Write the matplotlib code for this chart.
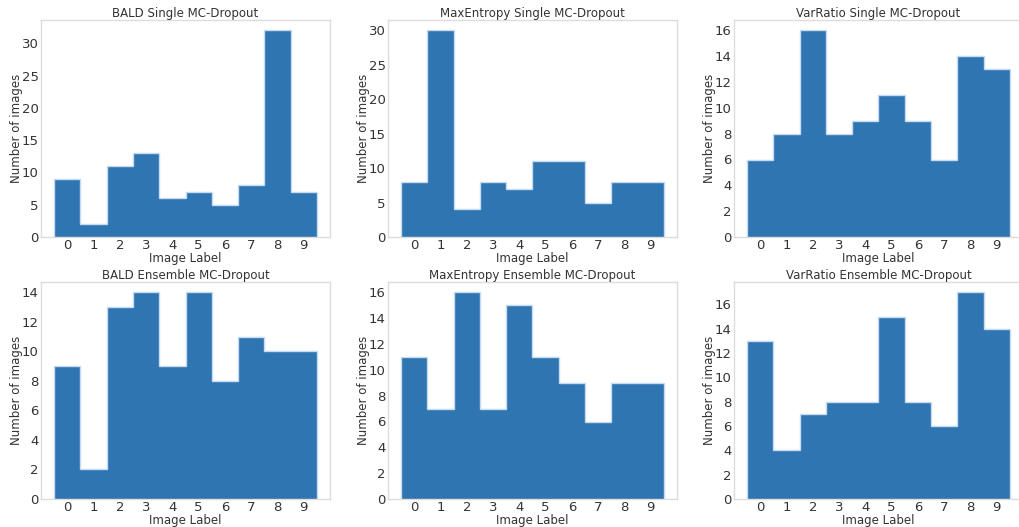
import numpy as np
import matplotlib
matplotlib.use("Agg")
import matplotlib.pyplot as plt

# counts of queried images per label (0-9)
labels = list(range(10))
bald_single = [9, 2, 11, 13, 6, 7, 5, 8, 32, 7]
maxent_single = [8, 30, 4, 8, 7, 11, 11, 5, 8, 8]
varratio_single = [6, 8, 16, 8, 9, 11, 9, 6, 14, 13]
bald_ensemble = [9, 2, 13, 14, 9, 14, 8, 11, 10, 10]
maxent_ensemble = [11, 7, 16, 7, 15, 11, 9, 6, 9, 9]
varratio_ensemble = [13, 4, 7, 8, 8, 15, 8, 6, 17, 14]

titles = ["BALD Single MC-Dropout", "MaxEntropy Single MC-Dropout", "VarRatio Single MC-Dropout",
          "BALD Ensemble MC-Dropout", "MaxEntropy Ensemble MC-Dropout", "VarRatio Ensemble MC-Dropout"]
series = [bald_single, maxent_single, varratio_single,
          bald_ensemble, maxent_ensemble, varratio_ensemble]

W, H = 1020, 527
fig = plt.figure(figsize=(W / 100, H / 100), dpi=100)

lefts = [41, 388, 734]
tops = [20, 282]
aw, ah = 289, 217

text_col = "#333333"
bar_col = "#2e75b2"
edge_col = "#c6dbee"

for i, (title, counts) in enumerate(zip(titles, series)):
    r, c = divmod(i, 3)
    ax = fig.add_axes([lefts[c] / W, 1 - (tops[r] + ah) / H, aw / W, ah / H])
    edges = np.arange(len(labels) + 1) - 0.5
    ax.stairs(counts, edges, fill=True, color=bar_col)
    ax.stairs(counts, edges, fill=False, color=edge_col, linewidth=1)
    ax.set_xticks(labels)
    ax.tick_params(length=0, labelsize=9.5, colors=text_col, pad=1.5)
    for s in ax.spines.values():
        s.set_color("#dddddd")
        s.set_linewidth(1)
    ax.set_title(title, fontsize=8.5, color=text_col, pad=0)
    ax.set_xlabel("Image Label", fontsize=8.5, color=text_col, labelpad=0)
    ax.set_ylabel("Number of images", fontsize=8.5, color=text_col, labelpad=-0.5)
    ax.yaxis.set_major_locator(matplotlib.ticker.MaxNLocator(integer=True, steps=[1, 2, 5, 10]))

fig.savefig("out.png", dpi=100, facecolor="white")
